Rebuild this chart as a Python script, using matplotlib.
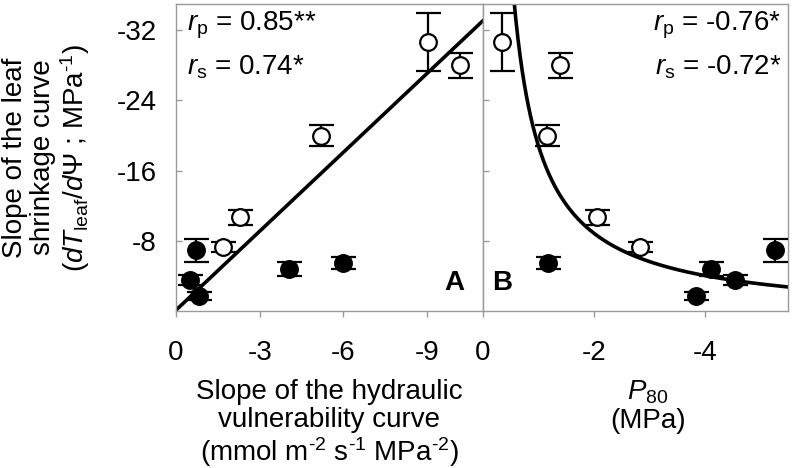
import matplotlib
matplotlib.use('Agg')
import matplotlib.pyplot as plt
import numpy as np

plt.rcParams['font.family'] = ['Liberation Sans', 'DejaVu Sans']
plt.rcParams['mathtext.fontset'] = 'custom'
plt.rcParams['mathtext.rm'] = 'Liberation Sans'
plt.rcParams['mathtext.it'] = 'Liberation Sans:italic'
plt.rcParams['mathtext.bf'] = 'Liberation Sans:bold'

# ---- data ----
shrink_slope = [-30.7, -28.0, -20.0, -10.7, -7.3, -6.9, -3.5, -1.7, -4.8, -5.5]
shrink_err = [3.3, 1.45, 1.15, 0.85, 0.6, 1.35, 0.55, 0.45, 0.8, 0.7]
hydraulic_slope = [-9.02, -10.19, -5.18, -2.28, -1.68, -0.72, -0.50, -0.84, -4.04, -6.0]
p80 = [-0.35, -1.39, -1.15, -2.05, -2.83, -5.27, -4.55, -3.84, -4.11, -1.18]
is_filled = [False, False, False, False, False, True, True, True, True, True]

# fitted relations
lin_slope = 3.0
lin_intercept = -0.1
hyp_a = 0.69
hyp_b = 18.73
hyp_x0 = 0.04

y_ticks = [-32, -24, -16, -8]
xA_ticks = [0, -3, -6, -9]
xB_ticks = [0, -2, -4]

HY = '\u2010'  # hyphen-like minus used in the reference superscripts

FS = 20
W, H = 793, 468
fig = plt.figure(figsize=(W / 100, H / 100), dpi=100)
axA = fig.add_axes([176 / W, 1 - 311 / H, 307 / W, 307 / H])
axB = fig.add_axes([483 / W, 1 - 311 / H, 305 / W, 307 / H])

spine_col = '#9a9a9a'


def draw_points(ax, xs):
    for filled in (False, True):
        xx = [x for x, f in zip(xs, is_filled) if f == filled]
        yy = [y for y, f in zip(shrink_slope, is_filled) if f == filled]
        ee = [e for e, f in zip(shrink_err, is_filled) if f == filled]
        ax.errorbar(xx, yy, yerr=ee, fmt='o', ms=12, mew=1.6,
                    mfc='black' if filled else 'white', mec='black',
                    ecolor='black', elinewidth=1.6, capsize=9, capthick=1.6,
                    zorder=3)


draw_points(axA, hydraulic_slope)
draw_points(axB, p80)

# regression line panel A
xl = np.array([0, -11.2])
axA.plot(xl, lin_slope * xl + lin_intercept, color='black', lw=2.6, zorder=2)

# hyperbolic fit panel B
xc = np.linspace(-0.5, -5.6, 400)
axB.plot(xc, hyp_a + hyp_b / (xc + hyp_x0), color='black', lw=2.6, zorder=2)

for ax in (axA, axB):
    ax.set_ylim(0, -35)
    ax.set_yticks(y_ticks)
    for s in ax.spines.values():
        s.set_color(spine_col)
        s.set_linewidth(1.0)
    ax.tick_params(axis='both', colors=spine_col, labelcolor='black',
                   labelsize=FS, length=4, width=1.0)
    ax.tick_params(axis='y', direction='in', pad=14)
    ax.tick_params(axis='x', direction='out', pad=17)

axA.set_xlim(0, -11)
axA.set_xticks(xA_ticks)
axA.set_xticklabels(['0', '-3', '-6', '-9'])
axA.set_yticklabels([str(v) for v in y_ticks])
axB.set_xlim(0, -5.5)
axB.set_xticks(xB_ticks)
axB.set_xticklabels(['0', '-2', '-4'])
axB.set_yticklabels([])

# annotations
axA.text(0.035, 0.932, r'$r_{\rm p}$ = 0.85**', transform=axA.transAxes,
         fontsize=FS, ha='left', va='center')
axA.text(0.035, 0.795, r'$r_{\rm s}$ = 0.74*', transform=axA.transAxes,
         fontsize=FS, ha='left', va='center')
axB.text(0.978, 0.932, r'$r_{\rm p}$ = -0.76*', transform=axB.transAxes,
         fontsize=FS, ha='right', va='center')
axB.text(0.978, 0.795, r'$r_{\rm s}$ = -0.72*', transform=axB.transAxes,
         fontsize=FS, ha='right', va='center')
axA.text(0.938, 0.05, 'A', transform=axA.transAxes, fontsize=FS,
         fontweight='bold', ha='right', va='bottom')
axB.text(0.029, 0.05, 'B', transform=axB.transAxes, fontsize=FS,
         fontweight='bold', ha='left', va='bottom')

# axis labels
axA.set_xlabel('Slope of the hydraulic\nvulnerability curve\n'
               '(mmol m$^{' + HY + '2}$ s$^{' + HY + '1}$ MPa$^{' + HY + '2}$)',
               fontsize=FS, linespacing=1.1)
axA.xaxis.set_label_coords(0.5, -0.22)
axB.set_xlabel('$P_{80}$\n(MPa)', fontsize=FS, linespacing=1.1)
axB.xaxis.set_label_coords(0.54, -0.22)

axA.text(-0.42, 0.5, 'Slope of the leaf\nshrinkage curve\n'
         r'($dT_{\rm leaf}/d\mathit{\Psi}$ ; MPa$^{' + HY + '1}$)',
         transform=axA.transAxes,
         fontsize=FS, rotation=90, ha='center', va='center',
         multialignment='center', linespacing=1.08)

fig.savefig('out.png', dpi=100)
